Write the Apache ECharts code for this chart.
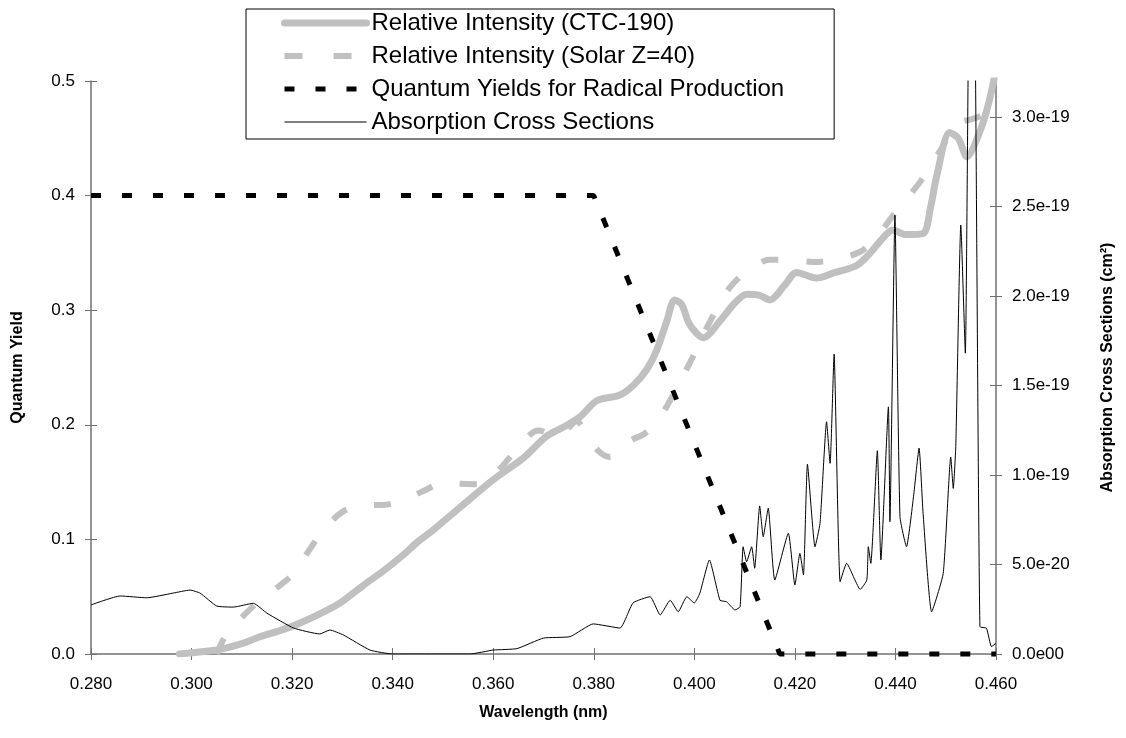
<!DOCTYPE html>
<html><head><meta charset="utf-8">
<script src="https://cdn.jsdelivr.net/npm/echarts@6/dist/echarts.min.js"></script>
<style>html,body{margin:0;padding:0;background:#fff}#c{width:1126px;height:738px}</style>
</head><body><div id="c"></div>
<script>
// Relative Intensity (CTC-190)
const ctcWavelength = [0.2976,0.3020,0.3057,0.3100,0.3136,0.3180,0.3216,0.3269,0.3300,0.3348,0.3380,0.3420,0.3450,0.3480,0.3534,0.3600,0.3660,0.3706,0.3740,0.3773,0.3806,0.3852,0.3880,0.3905,0.3925,0.3945,0.3961,0.3975,0.3990,0.4018,0.4050,0.4080,0.4104,0.4130,0.4150,0.4180,0.4203,0.4243,0.4280,0.4323,0.4350,0.4369,0.4395,0.4420,0.4455,0.4470,0.4482,0.4508,0.4525,0.4542,0.4568,0.4585,0.4600];
const ctcIntensity  = [0.000,0.002,0.004,0.009,0.015,0.021,0.027,0.038,0.046,0.062,0.072,0.086,0.098,0.108,0.128,0.152,0.171,0.190,0.198,0.207,0.221,0.226,0.235,0.248,0.265,0.290,0.309,0.305,0.288,0.276,0.290,0.306,0.314,0.313,0.309,0.322,0.333,0.328,0.333,0.339,0.350,0.360,0.370,0.366,0.367,0.390,0.417,0.455,0.450,0.434,0.456,0.480,0.510];

// Relative Intensity (Solar Z=40)
const solarWavelength = [0.3050,0.3070,0.3100,0.3136,0.3170,0.3203,0.3230,0.3262,0.3300,0.3340,0.3380,0.3420,0.3460,0.3500,0.3574,0.3610,0.3640,0.3690,0.3730,0.3766,0.3790,0.3812,0.3832,0.3872,0.3900,0.3920,0.3945,0.3991,0.4031,0.4071,0.4110,0.4150,0.4190,0.4236,0.4280,0.4330,0.4360,0.4389,0.4420,0.4449,0.4490,0.4520,0.4554,0.4594,0.4600];
const solarIntensity  = [0.000,0.018,0.032,0.047,0.058,0.070,0.088,0.108,0.124,0.130,0.130,0.134,0.142,0.149,0.148,0.160,0.175,0.195,0.190,0.203,0.188,0.176,0.172,0.186,0.192,0.200,0.216,0.254,0.290,0.320,0.336,0.344,0.344,0.342,0.344,0.351,0.362,0.379,0.396,0.412,0.440,0.462,0.467,0.473,0.474];

// Quantum Yields for Radical Production
const qyWavelength = [0.280,0.380,0.417,0.460];
const qyValue      = [0.4,0.4,0.0,0.0];

// Absorption Cross Sections, in units of 1e-20 cm^2
const absWavelength = [0.2800,0.2858,0.2911,0.2963,0.2997,0.3017,0.3050,0.3083,0.3123,0.3150,0.3203,0.3255,0.3275,0.3302,0.3355,0.3400,0.3554,0.3600,0.3647,0.3700,0.3753,0.3799,0.3852,0.3878,0.3912,0.3932,0.3952,0.3968,0.3985,0.4000,0.4011,0.4030,0.4051,0.4064,0.4081,0.4091,0.4097,0.4104,0.4114,0.4120,0.4130,0.4137,0.4147,0.4160,0.4187,0.4200,0.4210,0.4217,0.4225,0.4240,0.4250,0.4263,0.4270,0.4278,0.4290,0.4303,0.4330,0.4343,0.4346,0.4351,0.4364,0.4371,0.4386,0.4389,0.4399,0.4409,0.4422,0.4436,0.4447,0.4455,0.4472,0.4495,0.4510,0.4515,0.4520,0.4530,0.4539,0.4548,0.4556,0.4568,0.4581,0.4591,0.4600];
const absCrossE20   = [2.74,3.24,3.14,3.40,3.57,3.40,2.68,2.62,2.83,2.28,1.45,1.12,1.34,1.06,0.22,0.00,0.00,0.22,0.30,0.89,0.97,1.68,1.45,2.85,3.20,2.18,3.00,2.36,3.20,2.85,3.40,5.25,3.00,2.92,2.46,2.64,5.99,5.15,5.99,4.79,8.27,6.55,8.14,4.13,6.74,3.85,5.62,4.41,10.6,5.99,7.30,12.97,10.65,16.75,4.04,5.06,3.61,4.13,5.99,5.06,11.35,5.25,13.8,7.39,24.5,7.67,5.99,8.80,11.5,7.85,2.36,4.50,11.0,9.25,11.58,23.96,16.8,40,40,1.53,1.44,0.41,0.60];

// Axis ticks
const xTicks = [0.28,0.30,0.32,0.34,0.36,0.38,0.40,0.42,0.44,0.46];
const leftTicks = [0,0.1,0.2,0.3,0.4,0.5];
const rightTicksE20 = [0,5,10,15,20,25,30];

const seriesNames = ['Relative Intensity (CTC-190)','Relative Intensity (Solar Z=40)','Quantum Yields for Radical Production','Absorption Cross Sections'];

const zip = (a,b) => a.map((v,i)=>[v,b[i]]);
const FONT = 'Liberation Sans, Arial, sans-serif';
const AX = '#707070';
const GREY = '#c0c0c0';
const NOSYM = {color:'rgba(0,0,0,0)', borderWidth:0, opacity:0};

const chart = echarts.init(document.getElementById('c'), null, {renderer:'canvas'});

const xBase = {type:'value', min:0.28, max:0.46, interval:0.02, position:'bottom'};
const leftBase = {type:'value', min:0, max:0.5, interval:0.1, position:'left'};
const rightBase = {type:'value', min:0, max:32, interval:5, position:'right'};

chart.setOption({
  backgroundColor:'#fff',
  animation:false,
  grid:{left:91, right:130, top:81, bottom:84},
  legend:{
    orient:'vertical', left:246, top:9,
    backgroundColor:'#fff', borderColor:'#000', borderWidth:1,
    padding:[2,50,5,35], itemGap:9, itemWidth:82, itemHeight:14,
    textStyle:{fontFamily:FONT, fontSize:24, color:'#000'},
    data:[
      {name:seriesNames[0], itemStyle:NOSYM, lineStyle:{color:GREY, width:7, type:'solid', cap:'round'}},
      {name:seriesNames[1], itemStyle:NOSYM, lineStyle:{color:GREY, width:6, type:[18,31]}},
      {name:seriesNames[2], itemStyle:NOSYM, lineStyle:{color:'#000', width:5, type:[10,21]}},
      {name:seriesNames[3], itemStyle:NOSYM, lineStyle:{color:'#000', width:1, type:'solid'}}
    ]
  },
  xAxis:[
    Object.assign({}, xBase, {
      name:'Wavelength (nm)', nameLocation:'middle', nameGap:51,
      nameTextStyle:{fontFamily:FONT, fontSize:16, fontWeight:'bold', color:'#000'},
      axisLine:{show:true, lineStyle:{color:AX, width:1.5}},
      axisTick:{show:true, inside:false, length:6, lineStyle:{color:AX}},
      splitLine:{show:false},
      axisLabel:{fontFamily:FONT, fontSize:17, color:'#000', margin:22, formatter:v=>v.toFixed(3)}
    }),
    Object.assign({}, xBase, {
      axisLine:{show:false}, axisLabel:{show:false}, splitLine:{show:false},
      axisTick:{show:true, inside:true, length:6, lineStyle:{color:AX}}
    })
  ],
  yAxis:[
    Object.assign({}, leftBase, {
      name:'Quantum Yield', nameLocation:'middle', nameGap:65,
      nameTextStyle:{fontFamily:FONT, fontSize:16, fontWeight:'bold', color:'#000'},
      axisLine:{show:true, lineStyle:{color:AX, width:1.5}},
      axisTick:{show:true, inside:false, length:6, lineStyle:{color:AX}},
      splitLine:{show:false},
      axisLabel:{fontFamily:FONT, fontSize:17, color:'#000', margin:16, formatter:v=>v.toFixed(1)}
    }),
    Object.assign({}, rightBase, {
      name:'Absorption Cross Sections (cm²)', nameLocation:'middle', nameGap:104,
      nameTextStyle:{fontFamily:FONT, fontSize:16, fontWeight:'bold', color:'#000'},
      axisLine:{show:true, lineStyle:{color:AX, width:1.5}},
      axisTick:{show:true, inside:false, length:6, lineStyle:{color:AX}, customValues:rightTicksE20},
      splitLine:{show:false},
      axisLabel:{fontFamily:FONT, fontSize:17, color:'#000', margin:16, customValues:rightTicksE20,
        formatter:v=> v===0 ? '0.0e00' : (v*1e-20).toExponential(1)}
    }),
    Object.assign({}, leftBase, {
      axisLine:{show:false}, axisLabel:{show:false}, splitLine:{show:false},
      axisTick:{show:true, inside:true, length:6, lineStyle:{color:AX}}
    }),
    Object.assign({}, rightBase, {
      axisLine:{show:false}, axisLabel:{show:false}, splitLine:{show:false},
      axisTick:{show:true, inside:true, length:6, lineStyle:{color:AX}, customValues:rightTicksE20}
    })
  ],
  series:[
    {name:seriesNames[0], type:'line', xAxisIndex:0, yAxisIndex:0, data:zip(ctcWavelength, ctcIntensity),
     symbol:'none', smooth:0.3, clip:true, z:2,
     lineStyle:{color:GREY, width:7, cap:'round', join:'round'}, itemStyle:{color:GREY}},
    {name:seriesNames[1], type:'line', xAxisIndex:0, yAxisIndex:0, data:zip(solarWavelength, solarIntensity),
     symbol:'none', smooth:0.3, clip:true, z:2,
     lineStyle:{color:GREY, width:6, type:[17,28]}, itemStyle:{color:GREY}},
    {name:seriesNames[2], type:'line', xAxisIndex:0, yAxisIndex:0, data:zip(qyWavelength, qyValue),
     symbol:'none', clip:false, z:3,
     lineStyle:{color:'#000', width:5, type:[10,21]}, itemStyle:{color:'#000'}},
    {name:seriesNames[3], type:'line', xAxisIndex:0, yAxisIndex:1, data:zip(absWavelength, absCrossE20),
     symbol:'none', smooth:0.15, clip:true, z:4,
     lineStyle:{color:'#000', width:1}, itemStyle:{color:'#000'}}
  ]
});
</script>
</body></html>
